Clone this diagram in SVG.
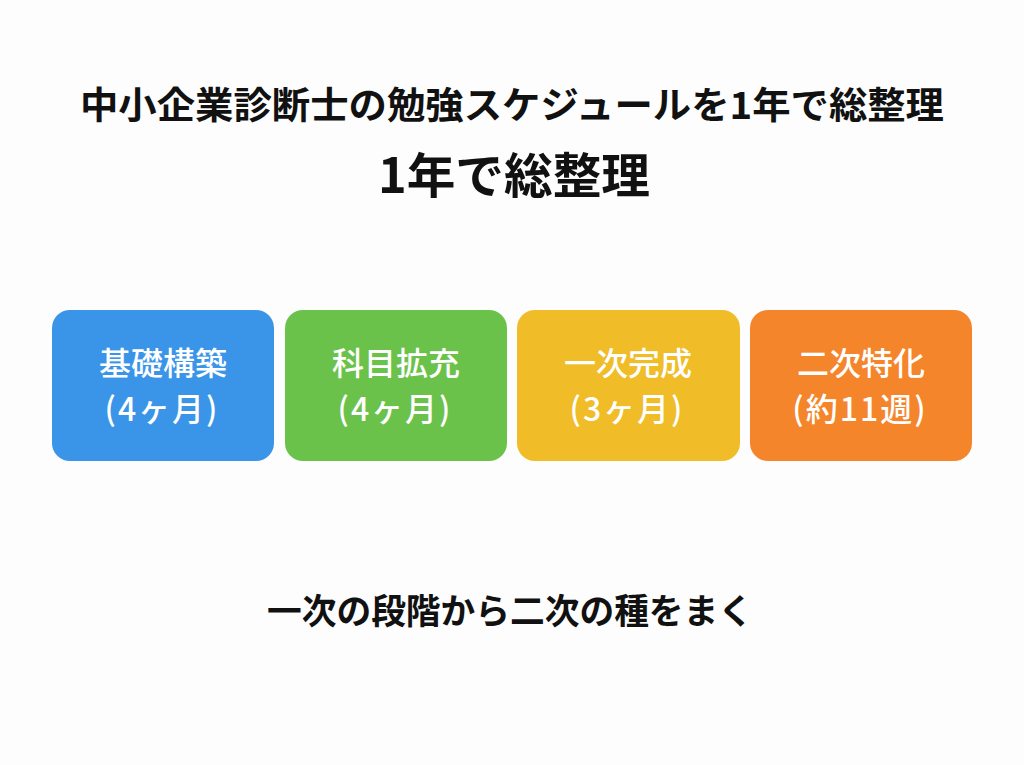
<svg xmlns="http://www.w3.org/2000/svg" width="1024" height="765" viewBox="0 0 1024 765">
<style>
.t{font-family:"Noto Sans CJK JP","Noto Sans",sans-serif;font-weight:700;fill:#111;text-anchor:middle}
.b{font-family:"Noto Sans CJK JP","Noto Sans",sans-serif;font-weight:500;fill:#fff;text-anchor:middle;font-size:32px}
</style>
<rect width="1024" height="765" fill="#fdfdfd"/>
<g id="title">
<text class="t" x="512" y="119" font-size="37" textLength="864" lengthAdjust="spacingAndGlyphs">中小企業診断士の勉強スケジュールを1年で総整理</text>
<text class="t" x="514" y="193" font-size="48" textLength="272" lengthAdjust="spacingAndGlyphs">1年で総整理</text>
</g>
<g id="node1">
<rect x="52" y="310" width="222" height="151" rx="18" fill="#3a95e8"/>
<text class="b" x="163" y="375">基礎構築</text>
<text class="b" x="162" y="421" letter-spacing="2">(4ヶ月)</text>
</g>
<g id="node2">
<rect x="285" y="310" width="222" height="151" rx="18" fill="#6bc24b"/>
<text class="b" x="396" y="375">科目拡充</text>
<text class="b" x="395" y="421" letter-spacing="2">(4ヶ月)</text>
</g>
<g id="node3">
<rect x="517" y="310" width="223" height="151" rx="18" fill="#f0bc28"/>
<text class="b" x="628" y="375">一次完成</text>
<text class="b" x="627" y="421" letter-spacing="2">(3ヶ月)</text>
</g>
<g id="node4">
<rect x="750" y="310" width="222" height="151" rx="18" fill="#f5852b"/>
<text class="b" x="861" y="375">二次特化</text>
<text class="b" x="860" y="421" letter-spacing="2">(約11週)</text>
</g>
<g id="connectors"></g>
<g id="footer">
<text class="t" x="510" y="624" font-size="35" textLength="486" lengthAdjust="spacingAndGlyphs">一次の段階から二次の種をまく</text>
</g>
</svg>
